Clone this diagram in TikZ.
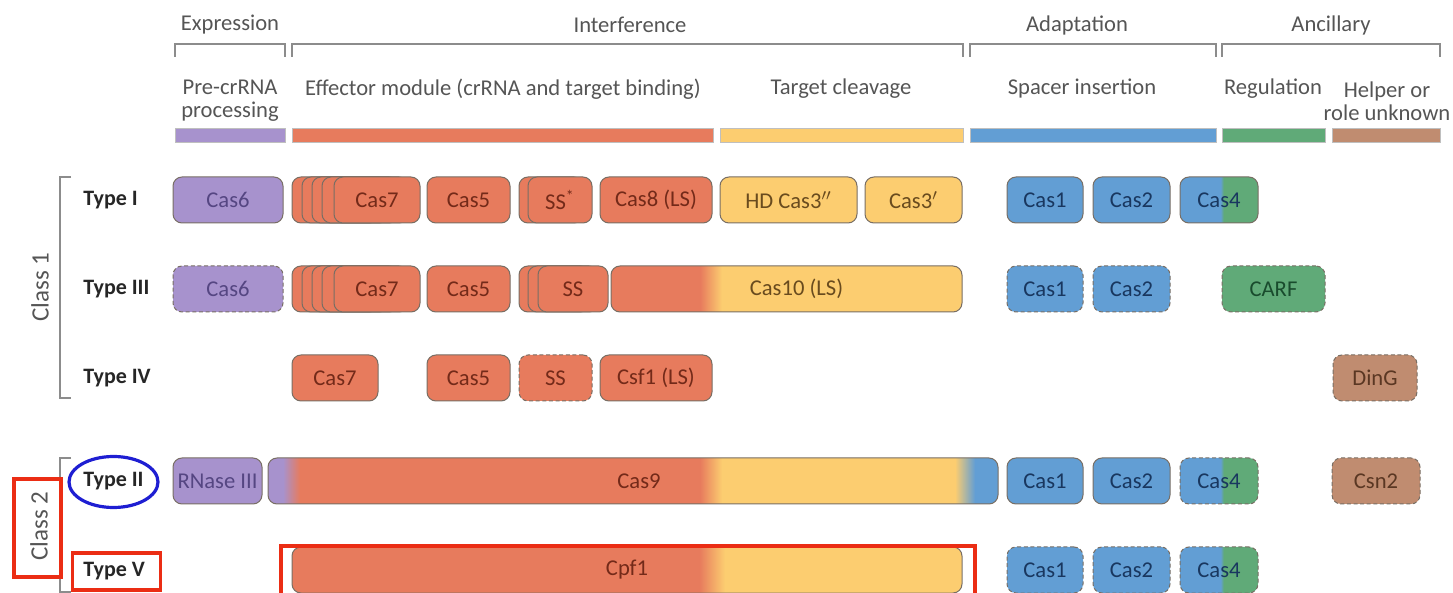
\documentclass[tikz,border=0pt]{standalone}
\usepackage{fontspec}
\setmainfont{Carlito}
\usetikzlibrary{shapes.geometric}

% fills
\definecolor{cPur}{RGB}{167,146,205}
\definecolor{cOra}{RGB}{231,123,93}
\definecolor{cYel}{RGB}{252,205,112}
\definecolor{cBlu}{RGB}{98,158,212}
\definecolor{cGre}{RGB}{96,170,120}
\definecolor{cBro}{RGB}{192,140,112}
% labels inside boxes
\definecolor{tPur}{RGB}{85,70,130}
\definecolor{tOra}{RGB}{115,42,25}
\definecolor{tYel}{RGB}{105,75,30}
\definecolor{tBlu}{RGB}{25,55,95}
\definecolor{tGre}{RGB}{25,75,45}
\definecolor{tBro}{RGB}{90,55,35}
% lines and headings
\definecolor{edge}{RGB}{120,110,100}
\definecolor{hdr}{RGB}{85,85,85}
\definecolor{mark}{RGB}{235,45,20}
\definecolor{ring}{RGB}{30,30,210}

% multi-domain proteins (path box spans 25bp..75bp)
\pgfdeclarehorizontalshading{cas10sh}{100bp}{color(0bp)=(cOra); color(37.7bp)=(cOra); color(40.8bp)=(cYel); color(100bp)=(cYel)}
\pgfdeclarehorizontalshading{cpf1sh}{100bp}{color(0bp)=(cOra); color(55.4bp)=(cOra); color(57.3bp)=(cYel); color(100bp)=(cYel)}
\pgfdeclarehorizontalshading{cas4sh}{100bp}{color(0bp)=(cBlu); color(51bp)=(cBlu); color(53bp)=(cGre); color(100bp)=(cGre)}

\tikzset{
  gbox/.style={draw=edge, line width=0.5pt, rounded corners=4.5pt, minimum height=23pt,
               inner sep=0pt, font=\fontsize{11.3}{13}\selectfont},
  opt/.style={dash pattern=on 2pt off 1.3pt},
  pur/.style={fill=cPur, text=tPur},
  ora/.style={fill=cOra, text=tOra},
  yel/.style={fill=cYel, text=tYel},
  blu/.style={fill=cBlu, text=tBlu},
  gre/.style={fill=cGre, text=tGre},
  bro/.style={fill=cBro, text=tBro},
  split4/.style={shading=cas4sh, shade, text=tBlu},
  bar/.style={draw=black!25, line width=0.3pt, minimum height=7pt, inner sep=0pt},
  hdrtxt/.style={text=hdr, font=\fontsize{11.3}{11.5}\selectfont, align=center, inner sep=0pt},
  brk/.style={draw=black!45, line width=0.6pt},
  typelbl/.style={anchor=west, inner sep=0pt, text=black!85, font=\bfseries\fontsize{11}{12}\selectfont},
  classlbl/.style={rotate=90, text=hdr, font=\fontsize{12.5}{14}\selectfont, inner sep=0pt},
  redbox/.style={draw=mark, line width=1.8pt, inner sep=0pt}
}

\begin{document}
\begin{tikzpicture}[x=0.5pt, y=-0.5pt]
\useasboundingbox (0,0) rectangle (1453,593);

% ---- functional groups ----
\node[hdrtxt] (hExp) at (230,25) {Expression};
\node[hdrtxt] (hInt) at (630,25) {Interference};
\node[hdrtxt] (hAda) at (1077,25) {Adaptation};
\node[hdrtxt] (hAnc) at (1331,25) {Ancillary};
\draw[brk] (175,57) -- (175,44) -- (285,44) -- (285,57);
\draw[brk] (292,57) -- (292,44) -- (963,44) -- (963,57);
\draw[brk] (970,57) -- (970,44) -- (1216,44) -- (1216,57);
\draw[brk] (1222,57) -- (1222,44) -- (1440,44) -- (1440,57);

% ---- functions ----
\node[hdrtxt] (sPre) at (230,101) {Pre-crRNA\\processing};
\node[hdrtxt] (sEff) at (503,89) {Effector module (crRNA and target binding)};
\node[hdrtxt] (sTar) at (841,89) {Target cleavage};
\node[hdrtxt] (sSpa) at (1082,89) {Spacer insertion};
\node[hdrtxt] (sReg) at (1273,89) {Regulation};
\node[hdrtxt] (sHel) at (1387,101) {Helper or\\role unknown};
\node[bar, fill=cPur, minimum width=55pt]   (bPre) at (230,135) {};
\node[bar, fill=cOra, minimum width=210.5pt] (bEff) at (502.5,135) {};
\node[bar, fill=cYel, minimum width=121.5pt] (bTar) at (841.5,135) {};
\node[bar, fill=cBlu, minimum width=123pt]  (bSpa) at (1093,135) {};
\node[bar, fill=cGre, minimum width=51.5pt] (bReg) at (1273.5,135) {};
\node[bar, fill=cBro, minimum width=54pt]   (bHel) at (1386,135) {};

% ---- classes ----
\draw[brk] (71,177) -- (60,177) -- (60,398) -- (71,398);
\draw[brk] (71,458) -- (60,458) -- (60,592) -- (71,592);
\node[classlbl] (cl1) at (40,287) {Class 1};
\node[classlbl] (cl2) at (39,526) {Class 2};
\node[redbox, minimum width=23.5pt, minimum height=49pt] (cl2mark) at (37.5,528) {};

% ---- Type I ----
\node[typelbl] (tI) at (83,200) {Type I};
\node[gbox,pur,minimum width=55pt] (i-cas6) at (228,200) {Cas6};
\node[gbox,ora,minimum width=43pt] (i-cas7a) at (335,200) {};
\node[gbox,ora,minimum width=43pt] (i-cas7b) at (345,200) {};
\node[gbox,ora,minimum width=43pt] (i-cas7c) at (355,200) {};
\node[gbox,ora,minimum width=43pt] (i-cas7d) at (365,200) {};
\node[gbox,ora,minimum width=43pt] (i-cas7) at (377,200) {Cas7};
\node[gbox,ora,minimum width=41.5pt] (i-cas5) at (468.5,200) {Cas5};
\node[gbox,ora,minimum width=32pt] (i-ssa) at (551,200) {};
\node[gbox,ora,minimum width=32pt] (i-ss) at (560,200) {SS\textsuperscript{*}};
\node[gbox,ora,minimum width=56pt] (i-cas8) at (656,200) {Cas8 (LS)};
\node[gbox,yel,minimum width=68.5pt] (i-cas3a) at (788.5,200) {HD Cas3$''$};
\node[gbox,yel,minimum width=48.5pt] (i-cas3b) at (913.5,200) {Cas3$'$};
\node[gbox,blu,minimum width=38pt] (i-cas1) at (1045,200) {Cas1};
\node[gbox,blu,minimum width=38.5pt] (i-cas2) at (1131.5,200) {Cas2};
\node[gbox,split4,minimum width=39pt] (i-cas4) at (1219,200) {Cas4};

% ---- Type III ----
\node[typelbl] (tIII) at (83,289) {Type III};
\node[gbox,pur,opt,minimum width=55pt] (iii-cas6) at (228,289) {Cas6};
\node[gbox,ora,minimum width=43pt] (iii-cas7a) at (335,289) {};
\node[gbox,ora,minimum width=43pt] (iii-cas7b) at (345,289) {};
\node[gbox,ora,minimum width=43pt] (iii-cas7c) at (355,289) {};
\node[gbox,ora,minimum width=43pt] (iii-cas7d) at (365,289) {};
\node[gbox,ora,minimum width=43pt] (iii-cas7) at (377,289) {Cas7};
\node[gbox,ora,minimum width=41.5pt] (iii-cas5) at (468.5,289) {Cas5};
\node[gbox,ora,minimum width=35pt] (iii-ssa) at (554,289) {};
\node[gbox,ora,minimum width=35pt] (iii-ssb) at (563,289) {};
\node[gbox,ora,minimum width=35pt] (iii-ss) at (573,289) {SS};
\node[gbox,shading=cas10sh,shade,text=tYel,minimum width=175.5pt] (iii-cas10) at (786.5,289) {\hspace*{10pt}Cas10 (LS)};
\node[gbox,blu,opt,minimum width=38pt] (iii-cas1) at (1045,289) {Cas1};
\node[gbox,blu,opt,minimum width=38.5pt] (iii-cas2) at (1131.5,289) {Cas2};
\node[gbox,gre,opt,minimum width=51.5pt] (iii-carf) at (1273.5,289) {CARF};

% ---- Type IV ----
\node[typelbl] (tIV) at (83,378) {Type IV};
\node[gbox,ora,minimum width=43pt] (iv-cas7) at (335,378) {Cas7};
\node[gbox,ora,minimum width=41.5pt] (iv-cas5) at (468.5,378) {Cas5};
\node[gbox,ora,opt,minimum width=36.5pt] (iv-ss) at (555.5,378) {SS};
\node[gbox,ora,minimum width=56pt] (iv-csf1) at (656,378) {Csf1 (LS)};
\node[gbox,bro,opt,minimum width=42pt] (iv-ding) at (1375,378) {DinG};

% ---- Type II ----
\node[typelbl] (tII) at (83,481) {Type II};
\node[draw=ring, line width=1.6pt, ellipse, minimum width=44.5pt, minimum height=25.5pt, inner sep=0pt] (tIIring) at (113.5,482) {};
\node[gbox,pur,minimum width=44.5pt] (ii-rnase) at (217.5,481) {RNase III};
% Cas9 domains: purple, orange, yellow, blue, blended at the joins
\begin{scope}
  \clip[rounded corners=4.5pt] (268,458) rectangle (998,504);
  \fill[cPur] (266,456) rectangle (283,506);
  \shade[left color=cPur, right color=cOra] (283,456) rectangle (300,506);
  \fill[cOra] (299.5,456) rectangle (700,506);
  \shade[left color=cOra, right color=cYel] (700,456) rectangle (722,506);
  \fill[cYel] (721.5,456) rectangle (955,506);
  \shade[left color=cYel, right color=cBlu] (955,456) rectangle (975,506);
  \fill[cBlu] (974.5,456) rectangle (1000,506);
\end{scope}
\node[gbox,text=tOra,minimum width=365pt] (ii-cas9) at (633,481) {\hspace*{6pt}Cas9};
\node[gbox,blu,minimum width=38pt] (ii-cas1) at (1045,481) {Cas1};
\node[gbox,blu,minimum width=38.5pt] (ii-cas2) at (1131.5,481) {Cas2};
\node[gbox,split4,opt,minimum width=39pt] (ii-cas4) at (1219,481) {Cas4};
\node[gbox,bro,opt,minimum width=44pt] (ii-csn2) at (1376,481) {Csn2};

% ---- Type V ----
\node[typelbl] (tV) at (83,571) {Type V};
\node[redbox, minimum width=44pt, minimum height=18.5pt] (tVmark) at (116.6,571.5) {};
\node[gbox,shading=cpf1sh,shade,text=tOra,minimum width=335pt] (v-cpf1) at (627,570) {Cpf1};
\node[redbox, minimum width=347pt, minimum height=24.5pt] (cpf1mark) at (628,570.5) {};
\node[gbox,blu,opt,minimum width=38pt] (v-cas1) at (1045,570) {Cas1};
\node[gbox,blu,opt,minimum width=38.5pt] (v-cas2) at (1131.5,570) {Cas2};
\node[gbox,split4,opt,minimum width=39pt] (v-cas4) at (1219,570) {Cas4};
\end{tikzpicture}
\end{document}
